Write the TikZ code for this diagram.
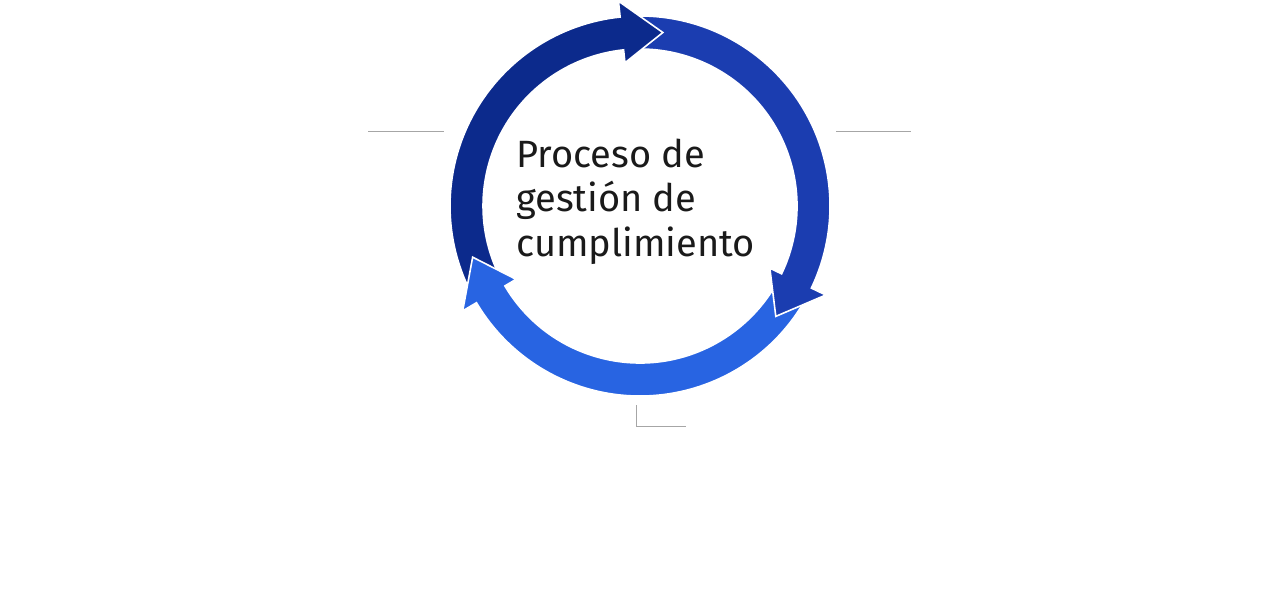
\documentclass[tikz,border=0pt]{standalone}
\usepackage{fontspec}
\setmainfont{Fira Sans}
\definecolor{arrowdark}{HTML}{0C2A8C}
\definecolor{arrowmid}{HTML}{1B3DB0}
\definecolor{arrowbright}{HTML}{2864E2}
\definecolor{stubgray}{HTML}{A6A6A6}
\definecolor{textdark}{HTML}{1A1A1A}
\newcommand\cyclearrow[4]{% colour, tail angle, head base angle, tip angle
  \path[fill=#1, draw=white, line width=1.6pt, line join=miter]
    (#2:190) arc[start angle=#2, end angle=#3, radius=190]
    -- (#3:206) -- (#4:175) -- (#3:144) -- (#3:157)
    arc[start angle=#3, end angle=#2, radius=157] -- cycle;}
\tikzset{stub/.style={draw=stubgray, line width=0.9pt}}
\begin{document}
\begin{tikzpicture}[x=1pt, y=1pt]
\useasboundingbox[fill=white] (0,0) rectangle (1274,-605);
\begin{scope}[shift={(640,-206)}]
  \cyclearrow{arrowbright}{334.4}{210.6}{197}
  \cyclearrow{arrowmid}{96}{-25.6}{-39.1}
  \cyclearrow{arrowdark}{210.6}{96}{82.5}
  \begin{scope}
    \clip (0,0) -- (188:260) arc[start angle=188, end angle=222, radius=260] -- cycle;
    \cyclearrow{arrowbright}{334.4}{210.6}{197}
  \end{scope}
\end{scope}
\node[anchor=base west, inner sep=0pt, align=left, text=textdark,
      font=\fontsize{38}{44.5}\selectfont] (title) at (516,-256)
  {Proceso de\\gestión de\\cumplimiento};
\coordinate (l1) at (368,-131); \coordinate (l2) at (444,-131);
\coordinate (r1) at (836,-131); \coordinate (r2) at (911,-131);
\coordinate (b1) at (636,-405); \coordinate (b2) at (636,-426); \coordinate (b3) at (686,-426);
\draw[stub] (l1) -- (l2);
\draw[stub] (r1) -- (r2);
\draw[stub] (b1) -- (b2) -- (b3);
\end{tikzpicture}
\end{document}
